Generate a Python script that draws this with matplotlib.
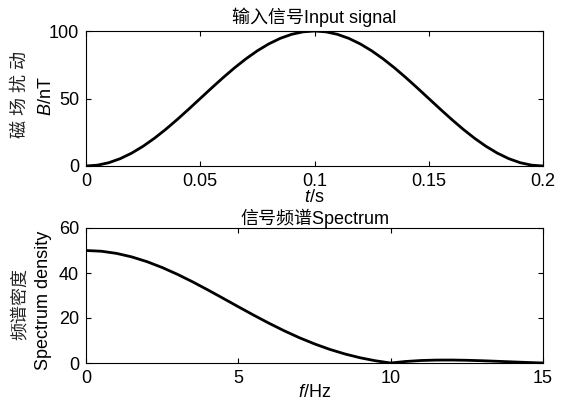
import matplotlib
matplotlib.use("Agg")
import matplotlib.pyplot as plt

plt.rcParams['font.family'] = ['Liberation Sans', 'Noto Sans CJK SC']
plt.rcParams['mathtext.fontset'] = 'custom'
plt.rcParams['mathtext.rm'] = 'Liberation Sans'
plt.rcParams['mathtext.it'] = 'Liberation Sans:italic'

# ---- data ----
t_s = [0.000, 0.005, 0.010, 0.015, 0.020, 0.025, 0.030, 0.035, 0.040, 0.045,
       0.050, 0.055, 0.060, 0.065, 0.070, 0.075, 0.080, 0.085, 0.090, 0.095,
       0.100, 0.105, 0.110, 0.115, 0.120, 0.125, 0.130, 0.135, 0.140, 0.145,
       0.150, 0.155, 0.160, 0.165, 0.170, 0.175, 0.180, 0.185, 0.190, 0.195,
       0.200]
b_nT = [0.00, 0.62, 2.45, 5.45, 9.55, 14.64, 20.61, 27.30, 34.55, 42.18,
        50.00, 57.82, 65.45, 72.70, 79.39, 85.36, 90.45, 94.55, 97.55, 99.38,
        100.00, 99.38, 97.55, 94.55, 90.45, 85.36, 79.39, 72.70, 65.45, 57.82,
        50.00, 42.18, 34.55, 27.30, 20.61, 14.64, 9.55, 5.45, 2.45, 0.62,
        0.00]

f_hz = [0.0, 0.5, 1.0, 1.5, 2.0, 2.5, 3.0, 3.5, 4.0, 4.5, 5.0, 5.5, 6.0, 6.5,
        7.0, 7.5, 8.0, 8.5, 9.0, 9.5, 10.0, 10.5, 11.0, 11.5, 12.0, 12.5,
        13.0, 13.5, 14.0, 14.5, 15.0]
spec = [50.00, 49.68, 48.72, 47.16, 45.05, 42.44, 39.42, 36.07, 32.48, 28.76,
        25.00, 21.29, 17.72, 14.35, 11.26, 8.49, 6.06, 4.01, 2.32, 0.99,
        0.00, 0.69, 1.11, 1.30, 1.32, 1.21, 1.01, 0.76, 0.49, 0.23, 0.00]

top_xticks = [0, 0.05, 0.1, 0.15, 0.2]
top_xticklabels = ['0', '0.05', '0.1', '0.15', '0.2']
top_yticks = [0, 50, 100]
bot_xticks = [0, 5, 10, 15]
bot_yticks = [0, 20, 40, 60]

W, H = 574, 401
fig = plt.figure(figsize=(W / 100, H / 100), dpi=100)
FS = 13

def px_axes(l, t, r, b):
    return fig.add_axes([l / W, 1 - b / H, (r - l) / W, (b - t) / H])

ax1 = px_axes(86, 31, 543, 166)
ax2 = px_axes(86, 228, 543, 363)

for ax in (ax1, ax2):
    for s in ax.spines.values():
        s.set_linewidth(0.8)
    ax.tick_params(direction='in', length=3.5, width=0.8, top=True, right=True,
                   labelsize=FS, pad=5)

ax1.plot(t_s, b_nT, color='black', lw=2.0)
ax1.set_xlim(0, 0.2)
ax1.set_ylim(0, 100)
ax1.set_xticks(top_xticks)
ax1.set_xticklabels(top_xticklabels)
ax1.set_yticks(top_yticks)
ax1.set_title('输入信号Input signal', fontsize=FS, pad=6)
ax1.set_xlabel('$t$/s', fontsize=FS, labelpad=-1)

ax2.plot(f_hz, spec, color='black', lw=2.0)
ax2.set_xlim(0, 15)
ax2.set_ylim(0, 60)
ax2.set_xticks(bot_xticks)
ax2.set_yticks(bot_yticks)
ax2.set_title('信号频谱Spectrum', fontsize=FS, pad=3)
ax2.set_xlabel('$f$/Hz', fontsize=FS, labelpad=-2)

# two-line y labels
fig.text(20 / W, 1 - 94 / H, '磁 场 扰 动', rotation=90, ha='center', va='center',
         fontsize=FS, color='#222222')
fig.text(47 / W, 1 - 96 / H, '$B$/nT', rotation=90, ha='center', va='center',
         fontsize=FS)
fig.text(20 / W, 1 - 304 / H, '频谱密度', rotation=90, ha='center', va='center',
         fontsize=FS, color='#222222')
fig.text(43 / W, 1 - 300 / H, 'Spectrum density', rotation=90, ha='center',
         va='center', fontsize=FS)

fig.savefig('out.png', dpi=100)
